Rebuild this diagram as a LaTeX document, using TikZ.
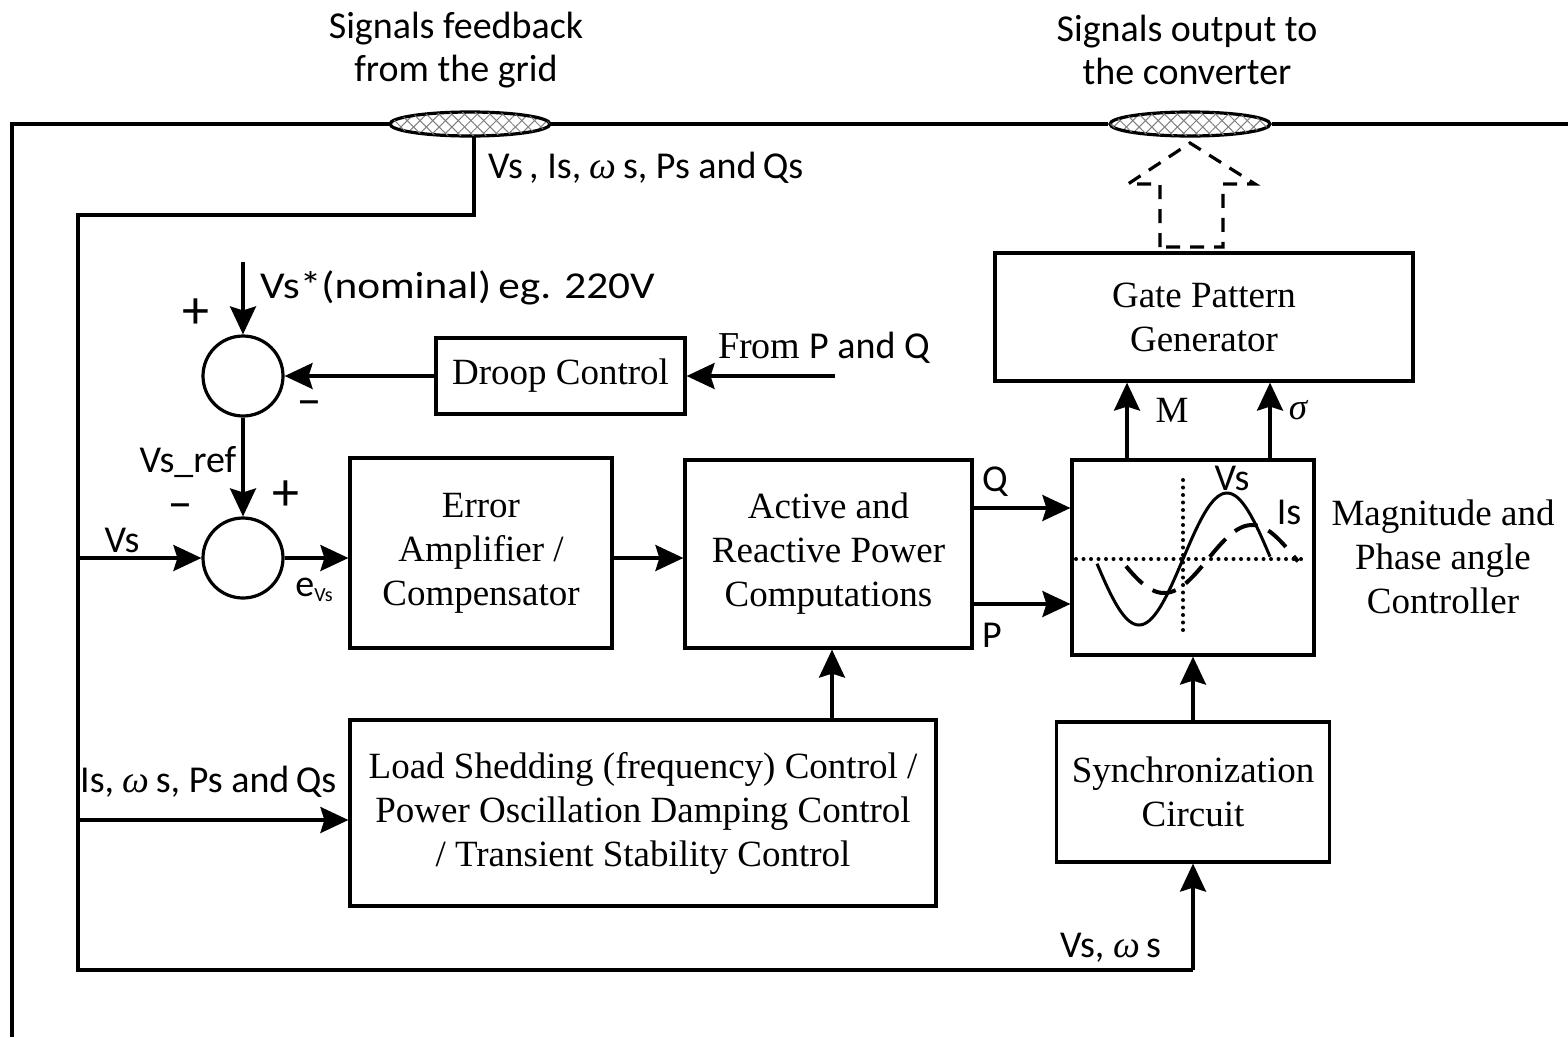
\documentclass[tikz,border=0pt]{standalone}
\usepackage{fontspec}
\setmainfont{Liberation Serif}
\newfontfamily\sansf{Carlito}
\usetikzlibrary{arrows.meta,shapes.geometric,patterns.meta}
\newcommand{\omg}{{\rmfamily\itshape ω}}

\begin{document}
\begin{tikzpicture}[x=1pt,y=-1pt,
  box/.style={draw, line width=3.2pt, align=center, inner sep=0pt,
    font=\fontsize{37}{44}\selectfont},
  sumj/.style={draw, circle, line width=3.2pt, minimum size=80pt, inner sep=0pt},
  wire/.style={line width=3.2pt},
  arr/.style={wire, -{Stealth[length=28pt,width=26pt,inset=4pt]}},
  lbl/.style={inner sep=0pt, font=\sansf\fontsize{38}{43}\selectfont},
  sign/.style={inner sep=0pt, font=\sansf\fontsize{54}{54}\selectfont},
  minus/.style={inner sep=0pt, font=\sansf\fontsize{48}{48}\selectfont},
  ser/.style={inner sep=0pt, align=center, font=\fontsize{37}{44}\selectfont},
  port/.style={ellipse, draw, line width=3.2pt, minimum width=160pt,
    minimum height=24pt, inner sep=0pt,
    pattern={Lines[angle=45,distance=9pt,line width=1pt]}, pattern color=gray,
    postaction={pattern={Lines[angle=-45,distance=9pt,line width=1pt]},
      pattern color=gray}},
  dotline/.style={line width=4pt, line cap=round, dash pattern=on 0pt off 7.5pt}
]
\useasboundingbox (0,0) rectangle (1568,1037);

% grid bus with the two interface ports
\coordinate (ctl) at (12,124);
\coordinate (cbl) at (12,1037);
\coordinate (ctr) at (1568,124);
\node[port] (p1) at (470,124) {};
\node[port] (p2) at (1190,124) {};
\draw[wire] (cbl) -- (ctl) -- (p1.west);
\draw[wire] (p1.east) -- (p2.west);
\draw[wire] (p2.east) -- (ctr);

\node[lbl, align=center] (t1) at (456,50) {Signals feedback\\from the grid};
\node[lbl, align=center] (t2) at (1187,50) {Signals output to\\the converter};

% blocks
\node[box, minimum width=249pt, minimum height=76pt] (droop) at (560.5,376) {Droop Control};
\node[box, minimum width=262pt, minimum height=190pt] (err) at (481,553) {Error\\Amplifier /\\Compensator};
\node[box, minimum width=287pt, minimum height=188pt] (act) at (828.5,554) {Active and\\Reactive Power\\Computations};
\node[box, minimum width=242pt, minimum height=195pt] (mag) at (1193,557.5) {};
\node[box, minimum width=418pt, minimum height=128pt] (gate) at (1204,317) {Gate Pattern\\Generator};
\node[box, minimum width=273pt, minimum height=140pt] (sync) at (1193,792) {Synchronization\\Circuit};
\node[box, minimum width=586pt, minimum height=186pt] (load) at (643,813)
  {Load Shedding (frequency) Control /\\Power Oscillation Damping Control\\/ Transient Stability Control};
\node[sumj] (s1) at (243,376) {};
\node[sumj] (s2) at (243,558) {};

\node[ser] (mtxt) at (1443,557) {Magnitude and\\Phase angle\\Controller};

% waveform sketch inside the magnitude/phase block (period 176, 2.04545 deg per unit)
\draw[dotline] (1076,559) -- (1302,559);
\draw[dotline] (1183,480) -- (1183,634);
\draw[line width=3pt] plot[domain=-86:87, samples=80]
  ({1183+\x}, {559-66*sin(2.04545*\x)});
\draw[line width=4pt, dash pattern=on 24pt off 12pt] plot[domain=-82:90, samples=80]
  ({1208+\x}, {559-34*sin(2.04545*\x)});
\node[lbl] (lvs) at (1232,478) {Vs};
\node[lbl] (lis) at (1289,512) {Is};

% output arrow toward the converter
\draw[line width=3.2pt, dash pattern=on 14pt off 10pt]
  (1160,247) -- (1160,184) -- (1128,184) -- (1190,143) -- (1255,184)
  -- (1223,184) -- (1223,247) -- cycle;

% feedback wiring
\coordinate (f1) at (474,215);
\coordinate (f2) at (78,215);
\coordinate (f3) at (78,970);
\coordinate (f4) at (1193,970);
\coordinate (bvs) at (78,558);
\coordinate (bis) at (78,820);
\draw[wire] (f1 |- p1.south) -- (f1) -- (f2) -- (f3) -- (f4);
\draw[arr] (f4) -- (sync.south);
\draw[arr] (bvs) -- (s2.west);
\draw[arr] (bis) -- (bis -| load.west);
\node[lbl, anchor=west] (lfb) at (488,168) {Vs\,, Is, \omg\,s, Ps and\,Qs};
\node[lbl] (lvs2) at (122,540) {Vs};
\node[lbl, anchor=west] (lis2) at (80,782) {Is, \omg\,s, Ps and\,Qs};
\node[lbl, anchor=west] (lvw) at (1060,948) {Vs, \omg\,s};

% reference path
\coordinate (vref) at (243,262);
\coordinate (fpq) at (835,376);
\draw[arr] (vref) -- (s1.north);
\draw[arr] (droop.west) -- (s1.east);
\draw[arr] (fpq) -- (droop.east);
\draw[arr] (s1.south) -- (s2.north);
\draw[arr] (s2.east) -- (s2.east -| err.west);
\draw[arr] (err.east |- s2) -- (act.west |- s2);
\draw[arr] (act.east |- 0,508) -- (mag.west |- 0,508);
\draw[arr] (act.east |- 0,604) -- (mag.west |- 0,604);
\draw[arr] (mag.north -| 1127,0) -- (gate.south -| 1127,0);
\draw[arr] (mag.north -| 1270,0) -- (gate.south -| 1270,0);
\draw[arr] (sync.north) -- (mag.south);
\draw[arr] (load.north -| 832,0) -- (act.south -| 832,0);

\node[sign] (pl1) at (196,314) {+};
\node[lbl, anchor=west] (lnom) at (260,288) {\scalebox{1.14}[1]{Vs*(nominal)\,eg. 220V}};
\node[minus] (mi1) at (309,409) {−};
\node[lbl, anchor=west] (lpq) at (718,348) {{\rmfamily From} P and Q};
\node[lbl] (lref) at (188,462) {Vs\_ref};
\node[sign] (pl2) at (286,496) {+};
\node[minus] (mi2) at (180,512) {−};
\node[lbl] (lev) at (314,590) {e\raisebox{-5pt}{\fontsize{20}{20}\selectfont Vs}};
\node[lbl] (lq) at (995,482) {Q};
\node[lbl] (lp) at (992,635) {P};
\node[ser] (lm) at (1172,410) {M};
\node[ser] (ls) at (1298,410) {\itshape σ};
\end{tikzpicture}
\end{document}
